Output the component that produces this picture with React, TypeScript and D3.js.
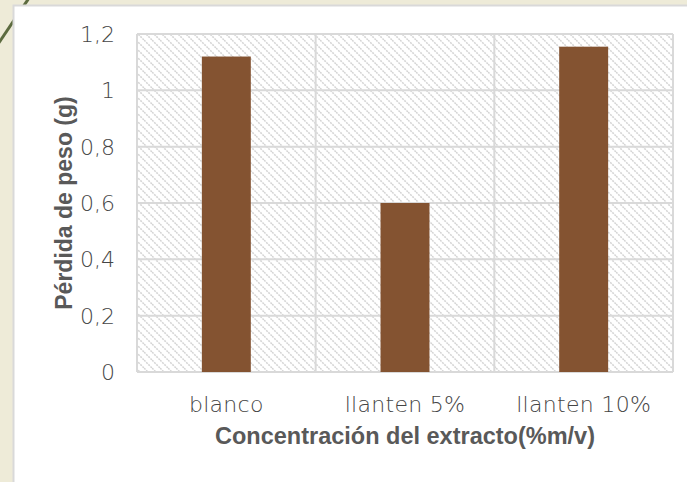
import React from "react";
import * as d3 from "d3";

// Weight loss by extract concentration
const categories: string[] = ["blanco", "llanten 5%", "llanten 10%"];
const weightLoss: number[] = [1.12, 0.6, 1.155];
const yTicks: number[] = [0, 0.2, 0.4, 0.6, 0.8, 1, 1.2];

const W = 687;
const H = 482;
const plot = { left: 137, right: 673, top: 34, bottom: 372 };

const textColor = "#595959";
const tickColor = "#454545";
const gridColor = "#d9d9d9";
const barColor = "#845331";
const tickFont = "'Century Gothic', 'DejaVu Sans', sans-serif";
const titleFont = "'Liberation Sans', Arial, sans-serif";

const fmt = (v: number) => String(v).replace(".", ",");

export default function App() {
  const x = d3
    .scaleBand<string>()
    .domain(categories)
    .range([plot.left, plot.right])
    .paddingInner(0.726)
    .paddingOuter(0.363);
  const y = d3.scaleLinear().domain([0, 1.2]).range([plot.bottom, plot.top]);
  const step = x.step();
  const bandStart = (c: string) => (x(c) as number) - step * x.paddingOuter();

  return (
    <svg
      width={W}
      height={H}
      style={{ position: "absolute", left: 0, top: 0 }}
      xmlns="http://www.w3.org/2000/svg"
    >
      <defs>
        <pattern id="hatch" width="8" height="8" patternUnits="userSpaceOnUse">
          <rect width="8" height="8" fill="#ffffff" />
          <path
            d="M-2,-2 L10,10 M-2,6 L2,10 M6,-2 L10,2"
            stroke="#d4d4d4"
            strokeWidth="1.5"
            strokeDasharray="2,1"
          />
        </pattern>
      </defs>

      {/* slide background */}
      <rect x={0} y={0} width={W} height={H} fill="#eeebd8" />
      <line x1={29} y1={-2} x2={-4} y2={47} stroke="#5c6b3f" strokeWidth={3} />

      {/* chart frame */}
      <rect x={13.5} y={5.5} width={W} height={H} fill="#ffffff" stroke="#d9d9d9" strokeWidth={2} />

      {/* plot area */}
      <rect
        x={plot.left}
        y={plot.top}
        width={plot.right - plot.left}
        height={plot.bottom - plot.top}
        fill="url(#hatch)"
      />
      {yTicks.map((t) => (
        <line
          key={"g" + t}
          x1={plot.left}
          x2={plot.right}
          y1={y(t)}
          y2={y(t)}
          stroke={gridColor}
          strokeWidth={2}
        />
      ))}
      {categories.map((c) => (
        <line
          key={"v" + c}
          x1={bandStart(c)}
          x2={bandStart(c)}
          y1={plot.top}
          y2={plot.bottom}
          stroke={gridColor}
          strokeWidth={2}
        />
      ))}
      <line x1={plot.right} x2={plot.right} y1={plot.top} y2={plot.bottom} stroke={gridColor} strokeWidth={2} />

      {/* bars */}
      {categories.map((c, i) => (
        <rect
          key={"b" + c}
          x={x(c)}
          y={y(weightLoss[i])}
          width={x.bandwidth()}
          height={y(0) - y(weightLoss[i])}
          fill={barColor}
        />
      ))}

      {/* y tick labels */}
      {yTicks.map((t) => (
        <text
          key={"t" + t}
          x={115}
          y={y(t)}
          dy="0.36em"
          textAnchor="end"
          fontFamily={tickFont}
          fontWeight={200}
          fontSize={22}
          fill={tickColor}
        >
          {fmt(t)}
        </text>
      ))}

      {/* category labels */}
      {categories.map((c) => (
        <text
          key={"c" + c}
          x={(x(c) as number) + x.bandwidth() / 2}
          y={412}
          textAnchor="middle"
          fontFamily={tickFont}
          fontWeight={200}
          fontSize={22}
          letterSpacing={0.3}
          fill={tickColor}
        >
          {c}
        </text>
      ))}

      {/* axis titles */}
      <text
        x={(plot.left + plot.right) / 2}
        y={444}
        textAnchor="middle"
        fontFamily={titleFont}
        fontWeight="bold"
        fontSize={23.5}
        fill={textColor}
      >
        Concentración del extracto(%m/v)
      </text>
      <text
        transform={`translate(72,${(plot.top + plot.bottom) / 2}) rotate(-90)`}
        textAnchor="middle"
        fontFamily={titleFont}
        fontWeight="bold"
        fontSize={23}
        fill={textColor}
      >
        Pérdida de peso (g)
      </text>
    </svg>
  );
}
